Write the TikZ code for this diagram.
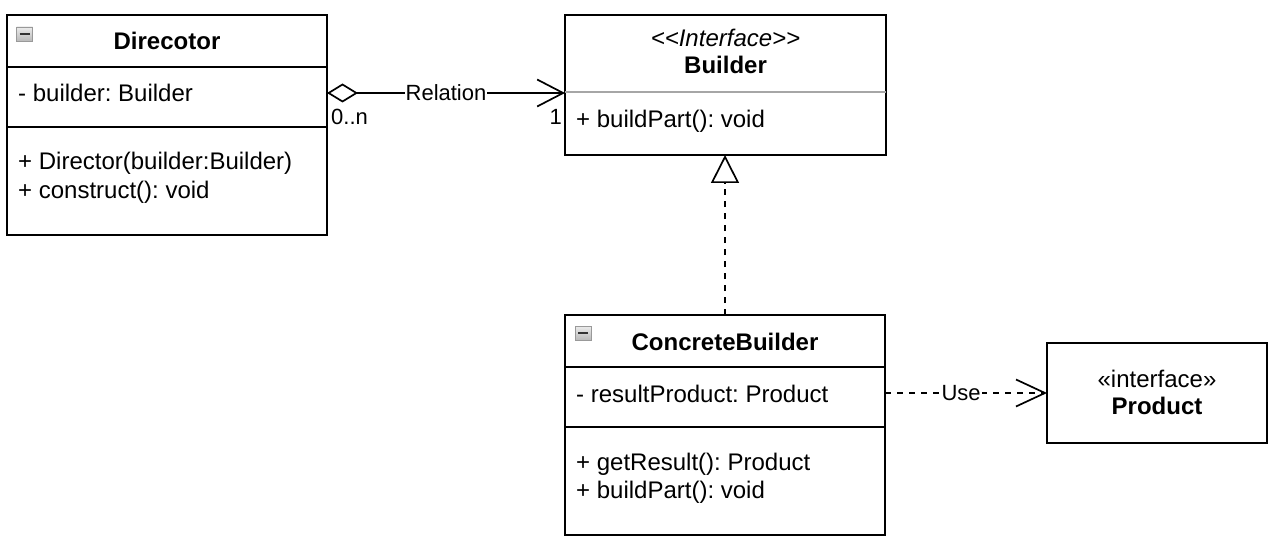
\documentclass[tikz,border=0pt]{standalone}
\usepackage{fontspec}
\setmainfont{Liberation Sans}
\usetikzlibrary{arrows.meta}
\frenchspacing
\begin{document}
\begin{tikzpicture}[x=1pt,y=-1pt,
  box/.style={draw, line width=2pt, inner sep=0pt, outer sep=0pt, anchor=north west},
  txt/.style={inner sep=0pt, font=\fontsize{24}{28}\selectfont},
  boldtxt/.style={inner sep=0pt, font=\fontsize{24}{28}\selectfont\bfseries},
  lbl/.style={inner sep=1pt, font=\fontsize{22}{26}\selectfont},
  divider/.style={line width=2pt},
  graydivider/.style={line width=1.5pt, gray!70},
  conn/.style={line width=1.7pt},
  dashconn/.style={line width=1.7pt, dash pattern=on 6pt off 6pt},
  icon/.style={draw=gray!80, line width=0.6pt, top color=gray!15, bottom color=gray!55,
    minimum width=16pt, minimum height=14pt, inner sep=0pt,
    path picture={\draw[line width=1.6pt, black!80]
      ([xshift=3pt]path picture bounding box.west) -- ([xshift=-3pt]path picture bounding box.east);}}
]
\useasboundingbox (0,0) rectangle (1276,548);

% ---------- Director ----------
\node[box, minimum width=320, minimum height=220] (dir) at (7,15) {};
\draw[divider] (dir.west |- 0,67) -- (dir.east |- 0,67);
\draw[divider] (dir.west |- 0,127) -- (dir.east |- 0,127);
\node[icon] (diricon) at (24.5,34) {};
\node[boldtxt, anchor=base] (dirT) at (167,50) {Direcotor};
\node[txt, anchor=base west] (dirA) at (18,102) {- builder: Builder};
\node[txt, anchor=base west] (dirM1) at (18,170) {+ Director(builder:Builder)};
\node[txt, anchor=base west] (dirM2) at (18,198) {+ construct(): void};

% ---------- Builder ----------
\node[box, minimum width=321, minimum height=140] (bld) at (565,15) {};
\draw[graydivider] (bld.west |- 0,92) -- (bld.east |- 0,92);
\node[txt, anchor=base, font=\fontsize{24}{28}\selectfont\itshape] (bldS) at (725.5,47) {<\kern0pt<Interface>\kern0pt>};
\node[boldtxt, anchor=base] (bldT) at (725.5,74) {Builder};
\node[txt, anchor=base west] (bldM) at (576,128) {+ buildPart(): void};

% ---------- ConcreteBuilder ----------
\node[box, minimum width=320, minimum height=220] (cb) at (565,315) {};
\draw[divider] (cb.west |- 0,367) -- (cb.east |- 0,367);
\draw[divider] (cb.west |- 0,427) -- (cb.east |- 0,427);
\node[icon] (cbicon) at (583,333) {};
\node[boldtxt, anchor=base] (cbT) at (725,350) {ConcreteBuilder};
\node[txt, anchor=base west] (cbA) at (576,402) {- resultProduct: Product};
\node[txt, anchor=base west] (cbM1) at (576,470) {+ getResult(): Product};
\node[txt, anchor=base west] (cbM2) at (576,498) {+ buildPart(): void};

% ---------- Product ----------
\node[box, minimum width=220, minimum height=100] (prod) at (1047,343) {};
\node[txt, anchor=base] (prodS) at (1157,387) {«interface»};
\node[boldtxt, anchor=base] (prodT) at (1157,414) {Product};

% ---------- Connectors ----------
\draw[conn, {Diamond[open, length=31pt, width=19pt]}-{Straight Barb[length=26pt, width=27pt]}]
  (dir.east |- 0,93) -- node[lbl, fill=white] (rel) {Relation} (bld.west |- 0,93);
\node[lbl, anchor=base west, inner sep=0pt] (mult0) at (331,125) {0..n};
\node[lbl, anchor=base east, fill=white, inner sep=1pt] (mult1) at (563,125) {1};

\draw[dashconn, -{Triangle[open, length=28pt, width=28pt, fill=white]}]
  (cb.north) -- (cb.north |- bld.south);

\draw[dashconn, -{Straight Barb[length=29pt, width=27pt]}]
  (cb.east |- 0,393) -- node[lbl, fill=white, pos=0.47] (use) {Use} (prod.west |- 0,393);
\end{tikzpicture}
\end{document}
